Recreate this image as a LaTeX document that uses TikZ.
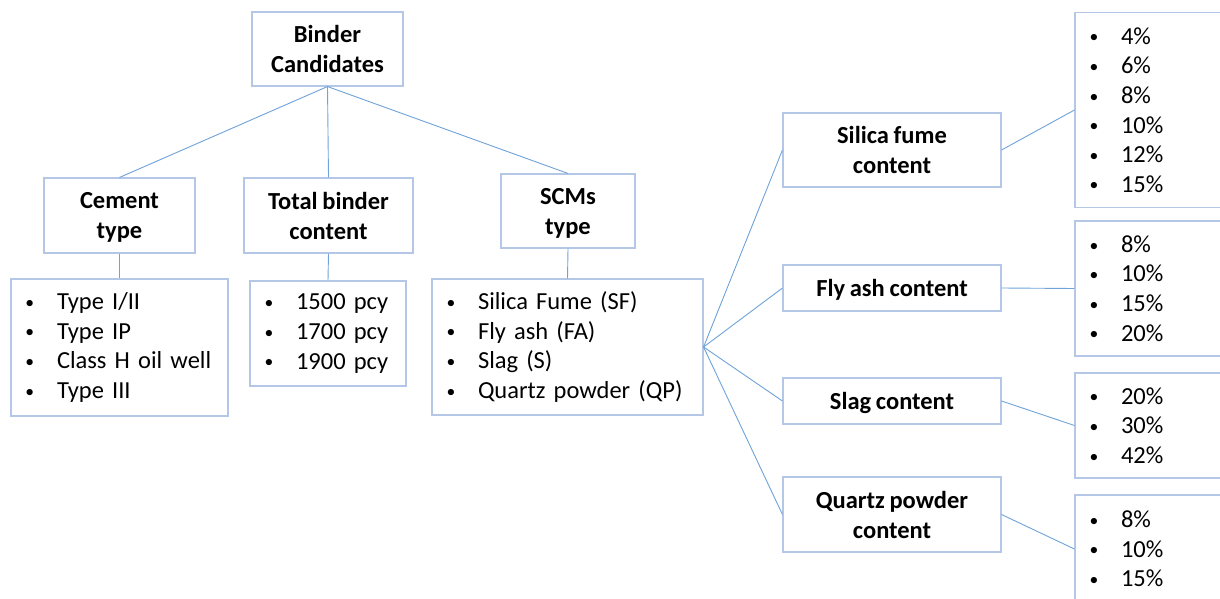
\documentclass[tikz,border=0pt]{standalone}
\usepackage{graphicx}
\usepackage{fontspec}
\setmainfont[WordSpace=0.85]{Carlito}
\definecolor{boxline}{HTML}{B4C7E7}
\definecolor{conn}{HTML}{6FA3DA}
\tikzset{
  x=1pt, y=-1pt,
  box/.style={draw=boxline, line width=1.1pt, fill=white, inner sep=0pt, text depth=0pt, font=\fontsize{24.5}{30}\selectfont\bfseries, align=center},
  listbox/.style={draw=boxline, line width=1.1pt, fill=white, inner xsep=13pt, inner ysep=0pt, font=\fontsize{24.5}{29.6}\selectfont, align=left},
  link/.style={draw=conn, line width=0.9pt}
}
\newcommand{\itm}[1]{\makebox[33pt][l]{\hspace{1.5pt}\raisebox{1.3pt}{\scalebox{0.72}{\textbullet}}}#1}
\begin{document}
\begin{tikzpicture}
\useasboundingbox (0,0) rectangle (1220,599);
\fill[white] (0,0) rectangle (1220,599);
\clip (0,0) rectangle (1220,599);
% header boxes
\node[box, minimum width=151pt, minimum height=74pt] (binder) at (327.5,49) {Binder\\Candidates};
\node[box, minimum width=151pt, minimum height=75pt] (cement) at (119.5,215.5) {Cement\\type};
\node[box, minimum width=169pt, minimum height=75pt] (total) at (328.5,215.5) {Total binder\\content};
\node[box, minimum width=134pt, minimum height=74pt] (scms) at (568,211) {SCMs\\type};
% lists
\node[listbox, minimum width=217pt, text width=191pt, minimum height=137pt] (cementlist) at (119.5,347.5)
  {\itm{Type I/II}\\\itm{Type IP}\\\itm{Class H oil well}\\\itm{Type III}};
\node[listbox, minimum width=156pt, text width=130pt, minimum height=105pt] (pcylist) at (328,333.5)
  {\itm{1500 pcy}\\\itm{1700 pcy}\\\itm{1900 pcy}};
\node[listbox, minimum width=271pt, text width=245pt, minimum height=136pt] (scmlist) at (567.5,347)
  {\itm{Silica Fume (SF)}\\\itm{Fly ash (FA)}\\\itm{Slag (S)}\\\itm{Quartz powder (QP)}};
% content boxes
\node[box, minimum width=218pt, minimum height=74pt] (sf) at (892,150) {Silica fume\\content};
\node[box, minimum width=218pt, minimum height=46pt] (fa) at (892,288) {Fly ash content};
\node[box, minimum width=218pt, minimum height=46pt] (sl) at (892,401) {Slag content};
\node[box, minimum width=218pt, minimum height=75pt] (qp) at (892,514.5) {Quartz powder\\content};
% right lists
\node[listbox, minimum width=185pt, text width=159pt, minimum height=195pt] (r1) at (1167.5,110)
  {\itm{4\%}\\\itm{6\%}\\\itm{8\%}\\\itm{10\%}\\\itm{12\%}\\\itm{15\%}};
\node[listbox, minimum width=185pt, text width=159pt, minimum height=135pt] (r2) at (1167.5,288.5)
  {\itm{8\%}\\\itm{10\%}\\\itm{15\%}\\\itm{20\%}};
\node[listbox, minimum width=185pt, text width=159pt, minimum height=105pt] (r3) at (1167.5,425.5)
  {\itm{20\%}\\\itm{30\%}\\\itm{42\%}};
\node[listbox, minimum width=185pt, text width=159pt, minimum height=108pt] (r4) at (1167.5,549)
  {\itm{8\%}\\\itm{10\%}\\\itm{15\%}};
% connectors
\draw[link] (binder.south) -- (cement.north);
\draw[link] (binder.south) -- (total.north);
\draw[link] (binder.south) -- (scms.north);
\draw[link] (cement.south) -- (cementlist.north);
\draw[link] (total.south) -- (pcylist.north);
\draw[link] (scms.south) -- (scmlist.north);
\draw[link] (scmlist.east) -- (sf.west);
\draw[link] (scmlist.east) -- (fa.west);
\draw[link] (scmlist.east) -- (sl.west);
\draw[link] (scmlist.east) -- (qp.west);
\draw[link] (sf.east) -- (r1.west);
\draw[link] (fa.east) -- (r2.west);
\draw[link] (sl.east) -- (r3.west);
\draw[link] (qp.east) -- (r4.west);
\end{tikzpicture}
\end{document}
